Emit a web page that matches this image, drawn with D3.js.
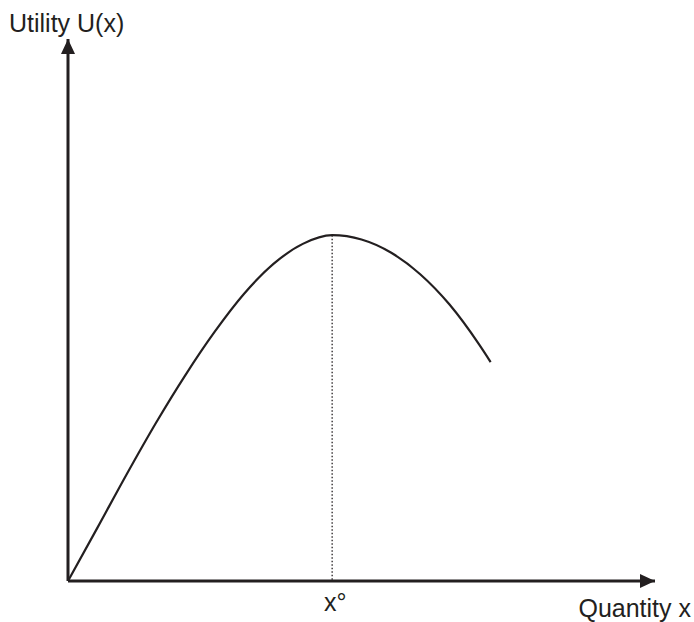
<!DOCTYPE html>
<html>
<head>
<meta charset="utf-8">
<script src="https://cdn.jsdelivr.net/npm/d3@7"></script>
<style>
  html, body { margin: 0; padding: 0; background: #fff; }
  svg { display: block; }
  text { font-family: "Liberation Sans", Arial, Helvetica, sans-serif; fill: #231f20; }
</style>
</head>
<body>
<svg id="chart" width="694" height="622"></svg>
<script>
// Utility curve U(x): rises to a maximum at x° and then declines
const quantity = [0, 0.5, 1.0, 1.5, 2.0, 2.5, 3.0, 3.5, 4.0, 4.5, 5.0, 5.5, 6.0, 6.5, 7.0, 7.2];
const utility  = [0, 0.98, 1.97, 2.92, 3.80, 4.60, 5.30, 5.85, 6.22, 6.38, 6.30, 6.06, 5.66, 5.10, 4.37, 4.04];
const peakQuantity = 4.5;
const peakUtility = 6.38;
const axisLabels = ["Quantity x", "Utility U(x)"];
const peakLabel = "x\u00B0";

const svg = d3.select("#chart");
const ink = "#231f20";

const x = d3.scaleLinear().domain([0, 10]).range([68, 655]);
const y = d3.scaleLinear().domain([0, 10]).range([581, 39]);

// arrowhead marker
svg.append("defs").append("marker")
  .attr("id", "arrow")
  .attr("viewBox", "0 0 10 10")
  .attr("refX", 10).attr("refY", 5)
  .attr("markerUnits", "userSpaceOnUse")
  .attr("markerWidth", 15).attr("markerHeight", 14)
  .attr("orient", "auto")
  .attr("preserveAspectRatio", "none")
  .append("path")
  .attr("d", "M0,0 L10,5 L0,10 Z")
  .attr("fill", ink);

// axes
svg.append("line")
  .attr("x1", x(0)).attr("y1", y(0))
  .attr("x2", x(10)).attr("y2", y(0))
  .attr("stroke", ink).attr("stroke-width", 3)
  .attr("marker-end", "url(#arrow)");

svg.append("line")
  .attr("x1", x(0)).attr("y1", y(0))
  .attr("x2", x(0)).attr("y2", y(10))
  .attr("stroke", ink).attr("stroke-width", 3)
  .attr("marker-end", "url(#arrow)");

// dotted drop line from the maximum
svg.append("line")
  .attr("x1", x(peakQuantity)).attr("y1", y(peakUtility))
  .attr("x2", x(peakQuantity)).attr("y2", y(0))
  .attr("stroke", ink).attr("stroke-width", 1.3)
  .attr("stroke-dasharray", "1.5,2");

// utility curve
const pts = quantity.map((q, i) => [q, utility[i]]);
svg.append("path")
  .datum(pts)
  .attr("d", d3.line().x(d => x(d[0])).y(d => y(d[1])).curve(d3.curveMonotoneX))
  .attr("fill", "none")
  .attr("stroke", ink)
  .attr("stroke-width", 2.2);

// labels
svg.append("text")
  .attr("x", 9).attr("y", 32)
  .attr("font-size", 25)
  .text(axisLabels[1]);

svg.append("text")
  .attr("x", 691).attr("y", 617)
  .attr("text-anchor", "end")
  .attr("font-size", 25)
  .text(axisLabels[0]);

svg.append("text")
  .attr("x", x(peakQuantity) + 3).attr("y", 611)
  .attr("text-anchor", "middle")
  .attr("font-size", 25)
  .text(peakLabel);
</script>
</body>
</html>
